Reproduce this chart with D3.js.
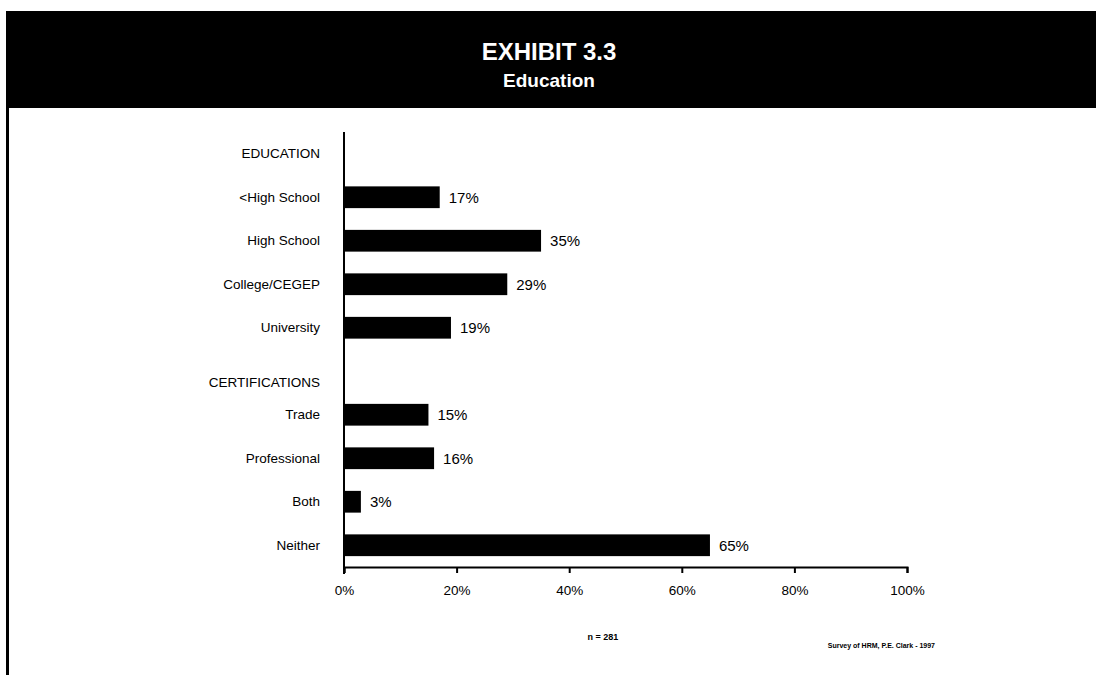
<!DOCTYPE html>
<html><head><meta charset="utf-8">
<script src="https://cdn.jsdelivr.net/npm/d3@7"></script>
<style>body{margin:0;background:#fff}svg{display:block}text{font-family:"Liberation Sans",Arial,sans-serif}</style>
</head><body>
<svg id="c" width="1096" height="675"></svg>
<script>
const title = "EXHIBIT 3.3";
const subtitle = "Education";
const categories = ["EDUCATION", "<High School", "High School", "College/CEGEP", "University", "", "Trade", "Professional", "Both", "Neither"];
const values = [null, 17, 35, 29, 19, null, 15, 16, 3, 65];
const sectionLabels = ["EDUCATION", "CERTIFICATIONS"];
const tickValues = [0, 20, 40, 60, 80, 100];
const noteN = "n = 281";
const source = "Survey of HRM, P.E. Clark - 1997";

const svg = d3.select("#c");
svg.append("rect").attr("x", 6).attr("y", 11).attr("width", 1090).attr("height", 97).attr("fill", "#000");
svg.append("rect").attr("x", 6).attr("y", 108).attr("width", 3).attr("height", 567).attr("fill", "#000");
svg.append("text").attr("x", 549).attr("y", 60).attr("text-anchor", "middle").attr("fill", "#fff")
  .attr("font-weight", "bold").attr("font-size", 24).text(title);
svg.append("text").attr("x", 549).attr("y", 87).attr("text-anchor", "middle").attr("fill", "#fff")
  .attr("font-weight", "bold").attr("font-size", 19).text(subtitle);

const x = d3.scaleLinear().domain([0, 100]).range([344, 907]);
const y = d3.scaleBand().domain(categories.map((d, i) => i)).range([132, 567]).paddingInner(0.5).paddingOuter(0.25);

// bars
const data = categories.map((c, i) => ({c, v: values[i], i})).filter(d => d.v != null);
svg.selectAll("rect.bar").data(data).enter().append("rect").attr("class", "bar")
  .attr("x", x(0)).attr("y", d => y(d.i)).attr("width", d => x(d.v) - x(0)).attr("height", y.bandwidth()).attr("fill", "#000");
svg.selectAll("text.val").data(data).enter().append("text").attr("class", "val")
  .attr("x", d => x(d.v) + 9).attr("y", d => y(d.i) + y.bandwidth() / 2).attr("dy", "0.35em")
  .attr("font-size", 15).text(d => d.v + "%");

// category labels
categories.forEach((c, i) => {
  if (!c || sectionLabels.includes(c)) return;
  svg.append("text").attr("x", 320).attr("y", y(i) + y.bandwidth() / 2).attr("dy", "0.35em")
    .attr("text-anchor", "end").attr("font-size", 13.5).text(c);
});
svg.append("text").attr("x", 320).attr("y", y(0) + y.bandwidth() / 2).attr("dy", "0.35em")
  .attr("text-anchor", "end").attr("font-size", 13.5).text(sectionLabels[0]);
svg.append("text").attr("x", 320).attr("y", y(5) + y.bandwidth() / 2 + 11).attr("dy", "0.35em")
  .attr("text-anchor", "end").attr("font-size", 13.5).text(sectionLabels[1]);

// axes
svg.append("line").attr("x1", x(0)).attr("x2", x(0)).attr("y1", 132).attr("y2", 574).attr("stroke", "#000").attr("stroke-width", 2);
const xAxis = d3.axisBottom(x).tickValues(tickValues).tickFormat(d => d + "%").tickSizeInner(6).tickSizeOuter(6).tickPadding(12);
const g = svg.append("g").attr("transform", "translate(0,567)").call(xAxis);
g.select(".domain").attr("stroke-width", 2);
g.selectAll(".tick line").attr("stroke-width", 2);
g.selectAll(".tick text").attr("font-size", 13.5).attr("font-family", "Liberation Sans, Arial, sans-serif").attr("fill", "#000");

svg.append("text").attr("x", 603).attr("y", 640).attr("text-anchor", "middle").attr("font-size", 9).attr("font-weight", "bold").text(noteN);
svg.append("text").attr("x", 935).attr("y", 648).attr("text-anchor", "end").attr("font-size", 7).attr("font-weight", "bold").text(source);
</script>
</body></html>
